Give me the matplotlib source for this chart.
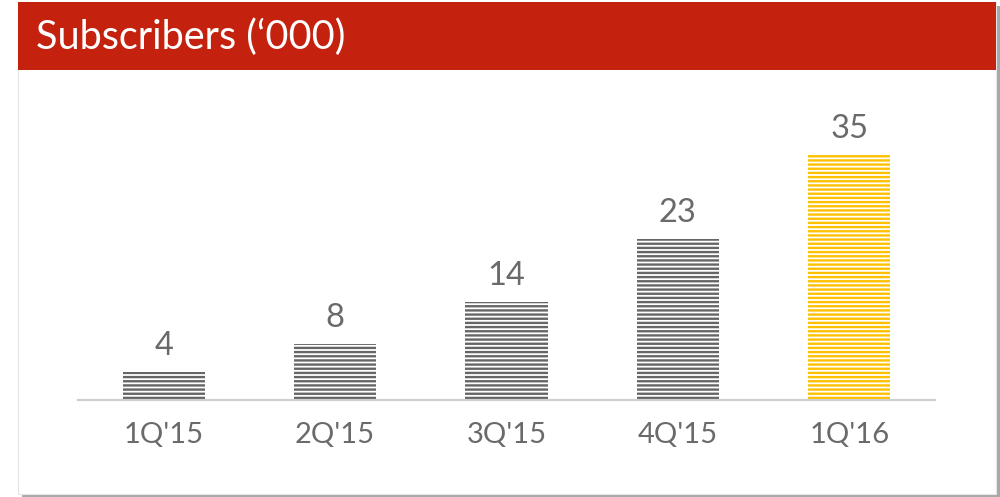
import matplotlib
matplotlib.use("Agg")
import matplotlib.pyplot as plt
from matplotlib.patches import Rectangle

# ----- Data -------------------------------------------------------------------------------------------------------- #

QUARTERS = ["1Q'15", "2Q'15", "3Q'15", "4Q'15", "1Q'16"]
SUBSCRIBERS = [4, 8, 14, 23, 35]
BAR_COLORS = ["#666666", "#666666", "#666666", "#666666", "#ffc000"]
TITLE = "Subscribers (\u2018000)"

# ----- Style ------------------------------------------------------------------------------------------------------- #

HEADER_RED = "#c4220f"
TEXT_GREY = "#6a6a6a"
FIG_W, FIG_H, DPI = 1000, 497, 100

plt.rcParams["font.family"] = ["Lato", "DejaVu Sans"]
plt.rcParams["hatch.linewidth"] = 1.7


def fx(px):
    return px / FIG_W


def fy(py):
    return 1 - py / FIG_H


fig = plt.figure(figsize=(FIG_W / DPI, FIG_H / DPI), dpi=DPI)
fig.patch.set_facecolor("white")

# Panel shadow, panel and red header
fig.patches.append(Rectangle((fx(22), fy(498)), fx(978), fy(6) - fy(498), transform=fig.transFigure,
                             facecolor="#a8a8a8", edgecolor="none", zorder=0))
fig.patches.append(Rectangle((fx(18), fy(494)), fx(978), fy(2) - fy(494), transform=fig.transFigure,
                             facecolor="white", edgecolor="#e6e6e6", linewidth=0.8, zorder=1))
fig.patches.append(Rectangle((fx(18), fy(70)), fx(978), fy(2) - fy(70), transform=fig.transFigure,
                             facecolor=HEADER_RED, edgecolor="none", zorder=2))
fig.text(fx(36), fy(37), TITLE, color="white", fontsize=28.5,
         va="center", ha="left", zorder=3)

# ----- Bars -------------------------------------------------------------------------------------------------------- #

ax = fig.add_axes([fx(78), fy(400), fx(935) - fx(78), fy(100) - fy(400)])
ax.set_zorder(5)
ax.set_facecolor("none")
x = list(range(len(QUARTERS)))
bars = ax.bar(x, SUBSCRIBERS, width=0.48, color="white", edgecolor=BAR_COLORS,
              hatch="----", linewidth=0, zorder=2)

for rect, val in zip(bars, SUBSCRIBERS):
    ax.annotate(str(val), (rect.get_x() + rect.get_width() / 2, rect.get_height()),
                xytext=(0, 8), textcoords="offset points", ha="center", va="bottom",
                fontsize=23.5, color=TEXT_GREY)

ax.set_xlim(-0.5, len(QUARTERS) - 0.5)
ax.set_ylim(0, 300 / 7.0)
ax.set_xticks(x)
ax.set_xticklabels(QUARTERS, fontsize=21, color=TEXT_GREY)
ax.tick_params(axis="x", length=0, pad=16)
ax.set_yticks([])
for side in ["top", "right", "left"]:
    ax.spines[side].set_visible(False)
ax.spines["bottom"].set_color("#d0d0d0")
ax.spines["bottom"].set_linewidth(1.6)

fig.savefig("out.png", dpi=DPI)
